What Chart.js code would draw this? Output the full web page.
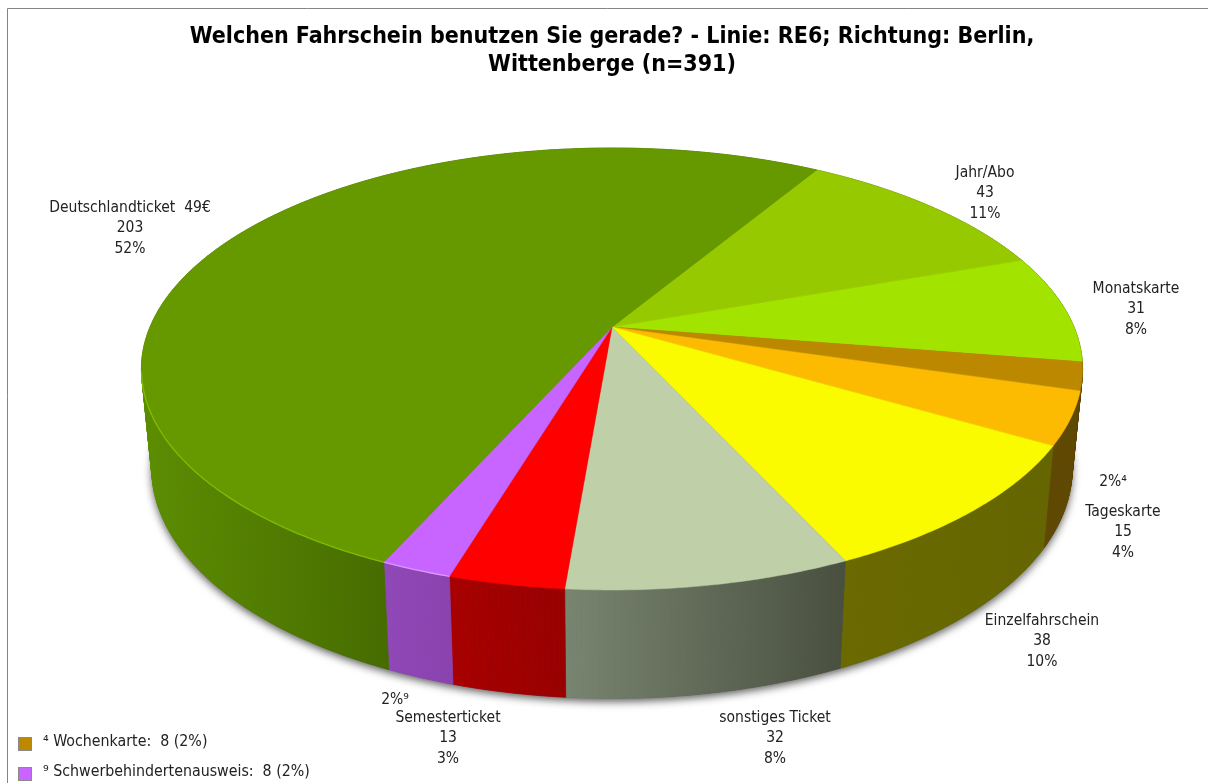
<!DOCTYPE html>
<html>
<head>
<meta charset="utf-8">
<style>html,body{margin:0;padding:0;background:#fff}canvas{display:block}</style>
<script src="https://cdn.jsdelivr.net/npm/chart.js@4/dist/chart.umd.min.js"></script>
</head>
<body>
<canvas id="c" width="1208" height="783"></canvas>
<script>
const categories = ['Jahr/Abo','Monatskarte','Wochenkarte','Tageskarte','Einzelfahrschein','sonstiges Ticket','Semesterticket','Schwerbehindertenausweis','Deutschlandticket  49€'];
const counts = [43,31,8,15,38,32,13,8,203];
const titleLines = ['Welchen Fahrschein benutzen Sie gerade? - Linie: RE6; Richtung: Berlin,','Wittenberge (n=391)'];
const topColors = ['#97C900','#A3E300','#BC8800','#FCBB00','#FBFB00','#BFCFA8','#FF0000','#C864FF','#669900'];
const sideLeft  = ['#5c7800','#5c7800','#5a4000','#604800','#6A6A00','#788570','#A80000','#9048B8','#5C8D00'];
const sideRight = ['#5c7800','#5c7800','#5a4000','#604800','#666600','#4A5040','#980000','#8A42AE','#466C00'];
const rimColors = [null,null,null,null,null,null,null,'#DC96FF','#80BC00'];
const labelCentres = [[985,173],[1136,289],[1113,482],[1123,512],[1042,621],[775,718],[448,718],[395,700],[130,208]];
const footnotes = {2:'⁴',7:'⁹'};
const total = counts.reduce((a,b)=>a+b,0);
const pct = v => Math.round(v/total*100)+'%';

const FONT = "'DejaVu Sans Condensed','DejaVu Sans',sans-serif";
const view = {rx:462, ry:213, k:0.19, dz:98, sx:0.978, sy:1.04};

function project(el, a, lower){
  const u=Math.cos(a), v=Math.sin(a), w=1-view.k*v;
  const sx=lower?view.sx:1, sy=lower?view.sy:1, dz=lower?view.dz:0;
  return [el.x+sx*view.rx*u/w, el.y+dz+sy*view.ry*v/w];
}
function arcPoints(el, lower){
  const n=Math.max(4,Math.ceil((el.endAngle-el.startAngle)/0.01)), pts=[];
  for(let i=0;i<=n;i++) pts.push(project(el, el.startAngle+(el.endAngle-el.startAngle)*i/n, lower));
  return pts;
}
const tiltedPie = {
  id:'tiltedPie',
  beforeDatasetsDraw(chart){
    const ctx=chart.ctx, els=chart.getDatasetMeta(0).data;
    // drop shadow below the lower disc
    ctx.save();
    ctx.shadowColor='rgba(0,0,0,0.65)'; ctx.shadowBlur=9; ctx.shadowOffsetY=3;
    ctx.fillStyle='#555';
    ctx.beginPath();
    els.forEach(el=>arcPoints(el,true).forEach(p=>ctx.lineTo(p[0],p[1])));
    ctx.closePath(); ctx.fill();
    ctx.restore();
    // side walls, one narrow quad per step so the silhouette is swept
    els.forEach((el,i)=>{
      const top=arcPoints(el,false), low=arcPoints(el,true);
      const front=low.filter(p=>p[1]>el.y+view.dz+view.ry*0.19);
      const xs=(front.length?front:low).map(p=>p[0]);
      const g=ctx.createLinearGradient(Math.min(...xs),0,Math.max(...xs),0);
      g.addColorStop(0,sideLeft[i]); g.addColorStop(1,sideRight[i]);
      ctx.fillStyle=g; ctx.strokeStyle=g; ctx.lineWidth=0.7;
      for(let s=0;s<top.length-1;s++){
        ctx.beginPath();
        ctx.moveTo(top[s][0],top[s][1]); ctx.lineTo(top[s+1][0],top[s+1][1]);
        ctx.lineTo(low[s+1][0],low[s+1][1]); ctx.lineTo(low[s][0],low[s][1]);
        ctx.closePath(); ctx.fill(); ctx.stroke();
      }
    });
    // upper face
    els.forEach((el,i)=>{
      ctx.fillStyle=el.options.backgroundColor; ctx.strokeStyle=el.options.backgroundColor; ctx.lineWidth=0.5;
      ctx.beginPath();
      ctx.moveTo(el.x,el.y);
      arcPoints(el,false).forEach(p=>ctx.lineTo(p[0],p[1]));
      ctx.closePath(); ctx.fill(); ctx.stroke();
    });
    // rim highlight
    els.forEach((el,i)=>{
      if(!rimColors[i]) return;
      ctx.strokeStyle=rimColors[i]; ctx.lineWidth=1.3;
      ctx.beginPath();
      arcPoints(el,false).filter(p=>p[1]>el.y+44).forEach(p=>ctx.lineTo(p[0],p[1]));
      ctx.stroke();
    });
    return false;
  },
  afterDraw(chart){
    const ctx=chart.ctx;
    ctx.save();
    // frame
    ctx.strokeStyle='#858585'; ctx.lineWidth=1;
    ctx.beginPath(); ctx.moveTo(7.5,783); ctx.lineTo(7.5,8.5); ctx.lineTo(1208,8.5); ctx.stroke();
    // labels
    ctx.fillStyle='#222'; ctx.font='15.5px '+FONT; ctx.textAlign='center'; ctx.textBaseline='middle';
    categories.forEach((name,i)=>{
      const [x,y]=labelCentres[i];
      if(footnotes[i]){ ctx.fillText(pct(counts[i])+footnotes[i],x,y); return; }
      ctx.fillText(name,x,y); ctx.fillText(String(counts[i]),x,y+20); ctx.fillText(pct(counts[i]),x,y+41);
    });
    // footnote legend
    ctx.textAlign='left'; ctx.font='15.8px '+FONT;
    [[2,737],[7,767]].forEach(([i,y])=>{
      ctx.fillStyle=topColors[i]; ctx.strokeStyle='#8a8a8a';
      ctx.fillRect(18.5,y+0.5,13,13); ctx.strokeRect(18.5,y+0.5,13,13);
      ctx.fillStyle='#222';
      ctx.fillText(footnotes[i]+' '+categories[i]+':  '+counts[i]+' ('+pct(counts[i])+')',43,y+5);
    });
    ctx.restore();
  }
};
new Chart(document.getElementById('c'),{
  type:'pie',
  data:{labels:categories,datasets:[{data:counts,backgroundColor:topColors,borderWidth:0}]},
  options:{
    responsive:false,animation:false,rotation:31,
    layout:{padding:{left:16,right:0,top:0,bottom:208}},
    plugins:{
      legend:{display:false},tooltip:{enabled:false},
      title:{display:true,text:titleLines,color:'#000',align:'center',
        font:{family:FONT,size:23,weight:'bold',lineHeight:28/23},padding:{top:23,bottom:0}}
    }
  },
  plugins:[tiltedPie]
});
</script>
</body>
</html>
